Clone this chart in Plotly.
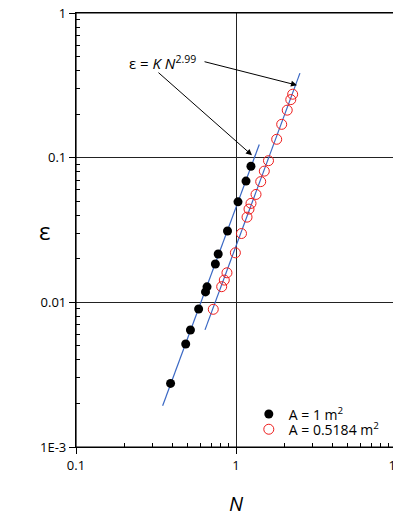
import numpy as np
import plotly.graph_objects as go

# Data (log-log)
N_black = [1.24, 1.155, 1.029, 0.885, 0.774, 0.743, 0.659, 0.645, 0.584, 0.519, 0.485, 0.390]
eps_black = [0.0873, 0.0689, 0.0495, 0.0311, 0.0216, 0.0184, 0.0128, 0.0118, 0.0090, 0.00644, 0.00515, 0.00275]

N_red = [2.26, 2.20, 2.09, 1.93, 1.796, 1.596, 1.503, 1.427, 1.334, 1.241, 1.206, 1.172,
         1.082, 0.991, 0.878, 0.845, 0.814, 0.721]
eps_red = [0.2745, 0.252, 0.213, 0.170, 0.134, 0.0953, 0.0807, 0.0683, 0.0557, 0.0483, 0.0441, 0.0388,
           0.0299, 0.0220, 0.0160, 0.01425, 0.01283, 0.00895]

# Fit lines eps = K N^p
exponent = 2.99
K_black = 0.0453
K_red = 0.0245
N_fit_black = [0.348, 1.398]
N_fit_red = [0.64, 2.51]

legend_names = ["A = 1 m<sup>2</sup>", "A = 0.5184 m<sup>2</sup>"]

x_ticks = [0.1, 1, 10]
x_ticktext = ["0.1", "1", "10"]
y_ticks = [0.001, 0.01, 0.1, 1]
y_ticktext = ["1E-3", "0.01", "0.1", "1"]

FONT = "Open Sans"
blue = "#3a68c4"
red = "#ee1c1c"


def minor_vals(decades):
    return [m * 10.0 ** d for d in decades for m in range(2, 10)]


fig = go.Figure()

for Ns, K in [(N_fit_black, K_black), (N_fit_red, K_red)]:
    n = np.array(Ns)
    fig.add_trace(go.Scatter(x=n, y=K * n ** exponent, mode="lines",
                             line=dict(color=blue, width=1.2), showlegend=False, hoverinfo="skip"))

fig.add_trace(go.Scatter(x=N_black, y=eps_black, mode="markers", name=legend_names[0],
                         legend="legend",
                         marker=dict(color="black", size=9, symbol="circle")))
fig.add_trace(go.Scatter(x=N_red, y=eps_red, mode="markers", name=legend_names[1],
                         legend="legend2",
                         marker=dict(color=red, size=10, symbol="circle-open",
                                     line=dict(color=red, width=1))))

axis_common = dict(
    type="log", showline=True, linecolor="black", linewidth=1.2, mirror=True,
    showgrid=True, gridcolor="#222", gridwidth=1, automargin=False,
    ticks="outside", ticklen=6, tickcolor="black", tickwidth=1,
    ticklabeloverflow="allow",
    zeroline=False, tickfont=dict(family=FONT, size=13, color="black"),
)

fig.update_xaxes(**axis_common, range=[-1, 1], tickvals=x_ticks, ticktext=x_ticktext,
                 minor=dict(ticks="inside", ticklen=4, tickcolor="black", showgrid=False,
                            tickvals=minor_vals([-1, 0])),
                 title=dict(text="<i>N</i>", font=dict(family=FONT, size=20, color="black"), standoff=24))
fig.update_yaxes(**axis_common, range=[-3, 0], tickvals=y_ticks, ticktext=y_ticktext,
                 minor=dict(ticks="inside", ticklen=4, tickcolor="black", showgrid=False,
                            tickvals=minor_vals([-3, -2, -1])))

# y-axis title
fig.add_annotation(x=-0.122, y=0.5, xref="paper", yref="paper", showarrow=False,
                   text="ε", font=dict(family=FONT, size=24, color="black"))

# Plot frame
fig.add_shape(type="rect", xref="paper", yref="paper", x0=0, x1=1, y0=0, y1=1,
              line=dict(color="black", width=1.2), layer="above")

# Equation label and arrows
fig.add_annotation(x=-0.46, y=-0.345, xref="x", yref="y", showarrow=False,
                   text="ε = <i>K N</i><sup>2.99</sup>", font=dict(family=FONT, size=15, color="black"))
fig.add_annotation(x=0.381, y=-0.499, ax=-0.206, ay=-0.334, xref="x", yref="y", axref="x", ayref="y",
                   text="", showarrow=True, arrowhead=2, arrowsize=1.2, arrowwidth=1, arrowcolor="black")
fig.add_annotation(x=0.1, y=-0.983, ax=-0.494, ay=-0.403, xref="x", yref="y", axref="x", ayref="y",
                   text="", showarrow=True, arrowhead=2, arrowsize=1.2, arrowwidth=1, arrowcolor="black")

legend_style = dict(xanchor="left", yanchor="middle", bgcolor="rgba(0,0,0,0)",
                    font=dict(family=FONT, size=14, color="black"), itemwidth=30)

# The page body adds an 8px offset; the figure runs to the window's right edge so "10" is cut like the reference
fig.update_layout(
    width=401, height=513,
    margin=dict(l=68, r=13, t=5, b=74),
    paper_bgcolor="white", plot_bgcolor="white",
    font=dict(family=FONT, color="black"),
    showlegend=True,
    legend=dict(x=0.54, y=0.075, **legend_style),
    legend2=dict(x=0.54, y=0.04, **legend_style),
)

fig.write_html("out.html")
